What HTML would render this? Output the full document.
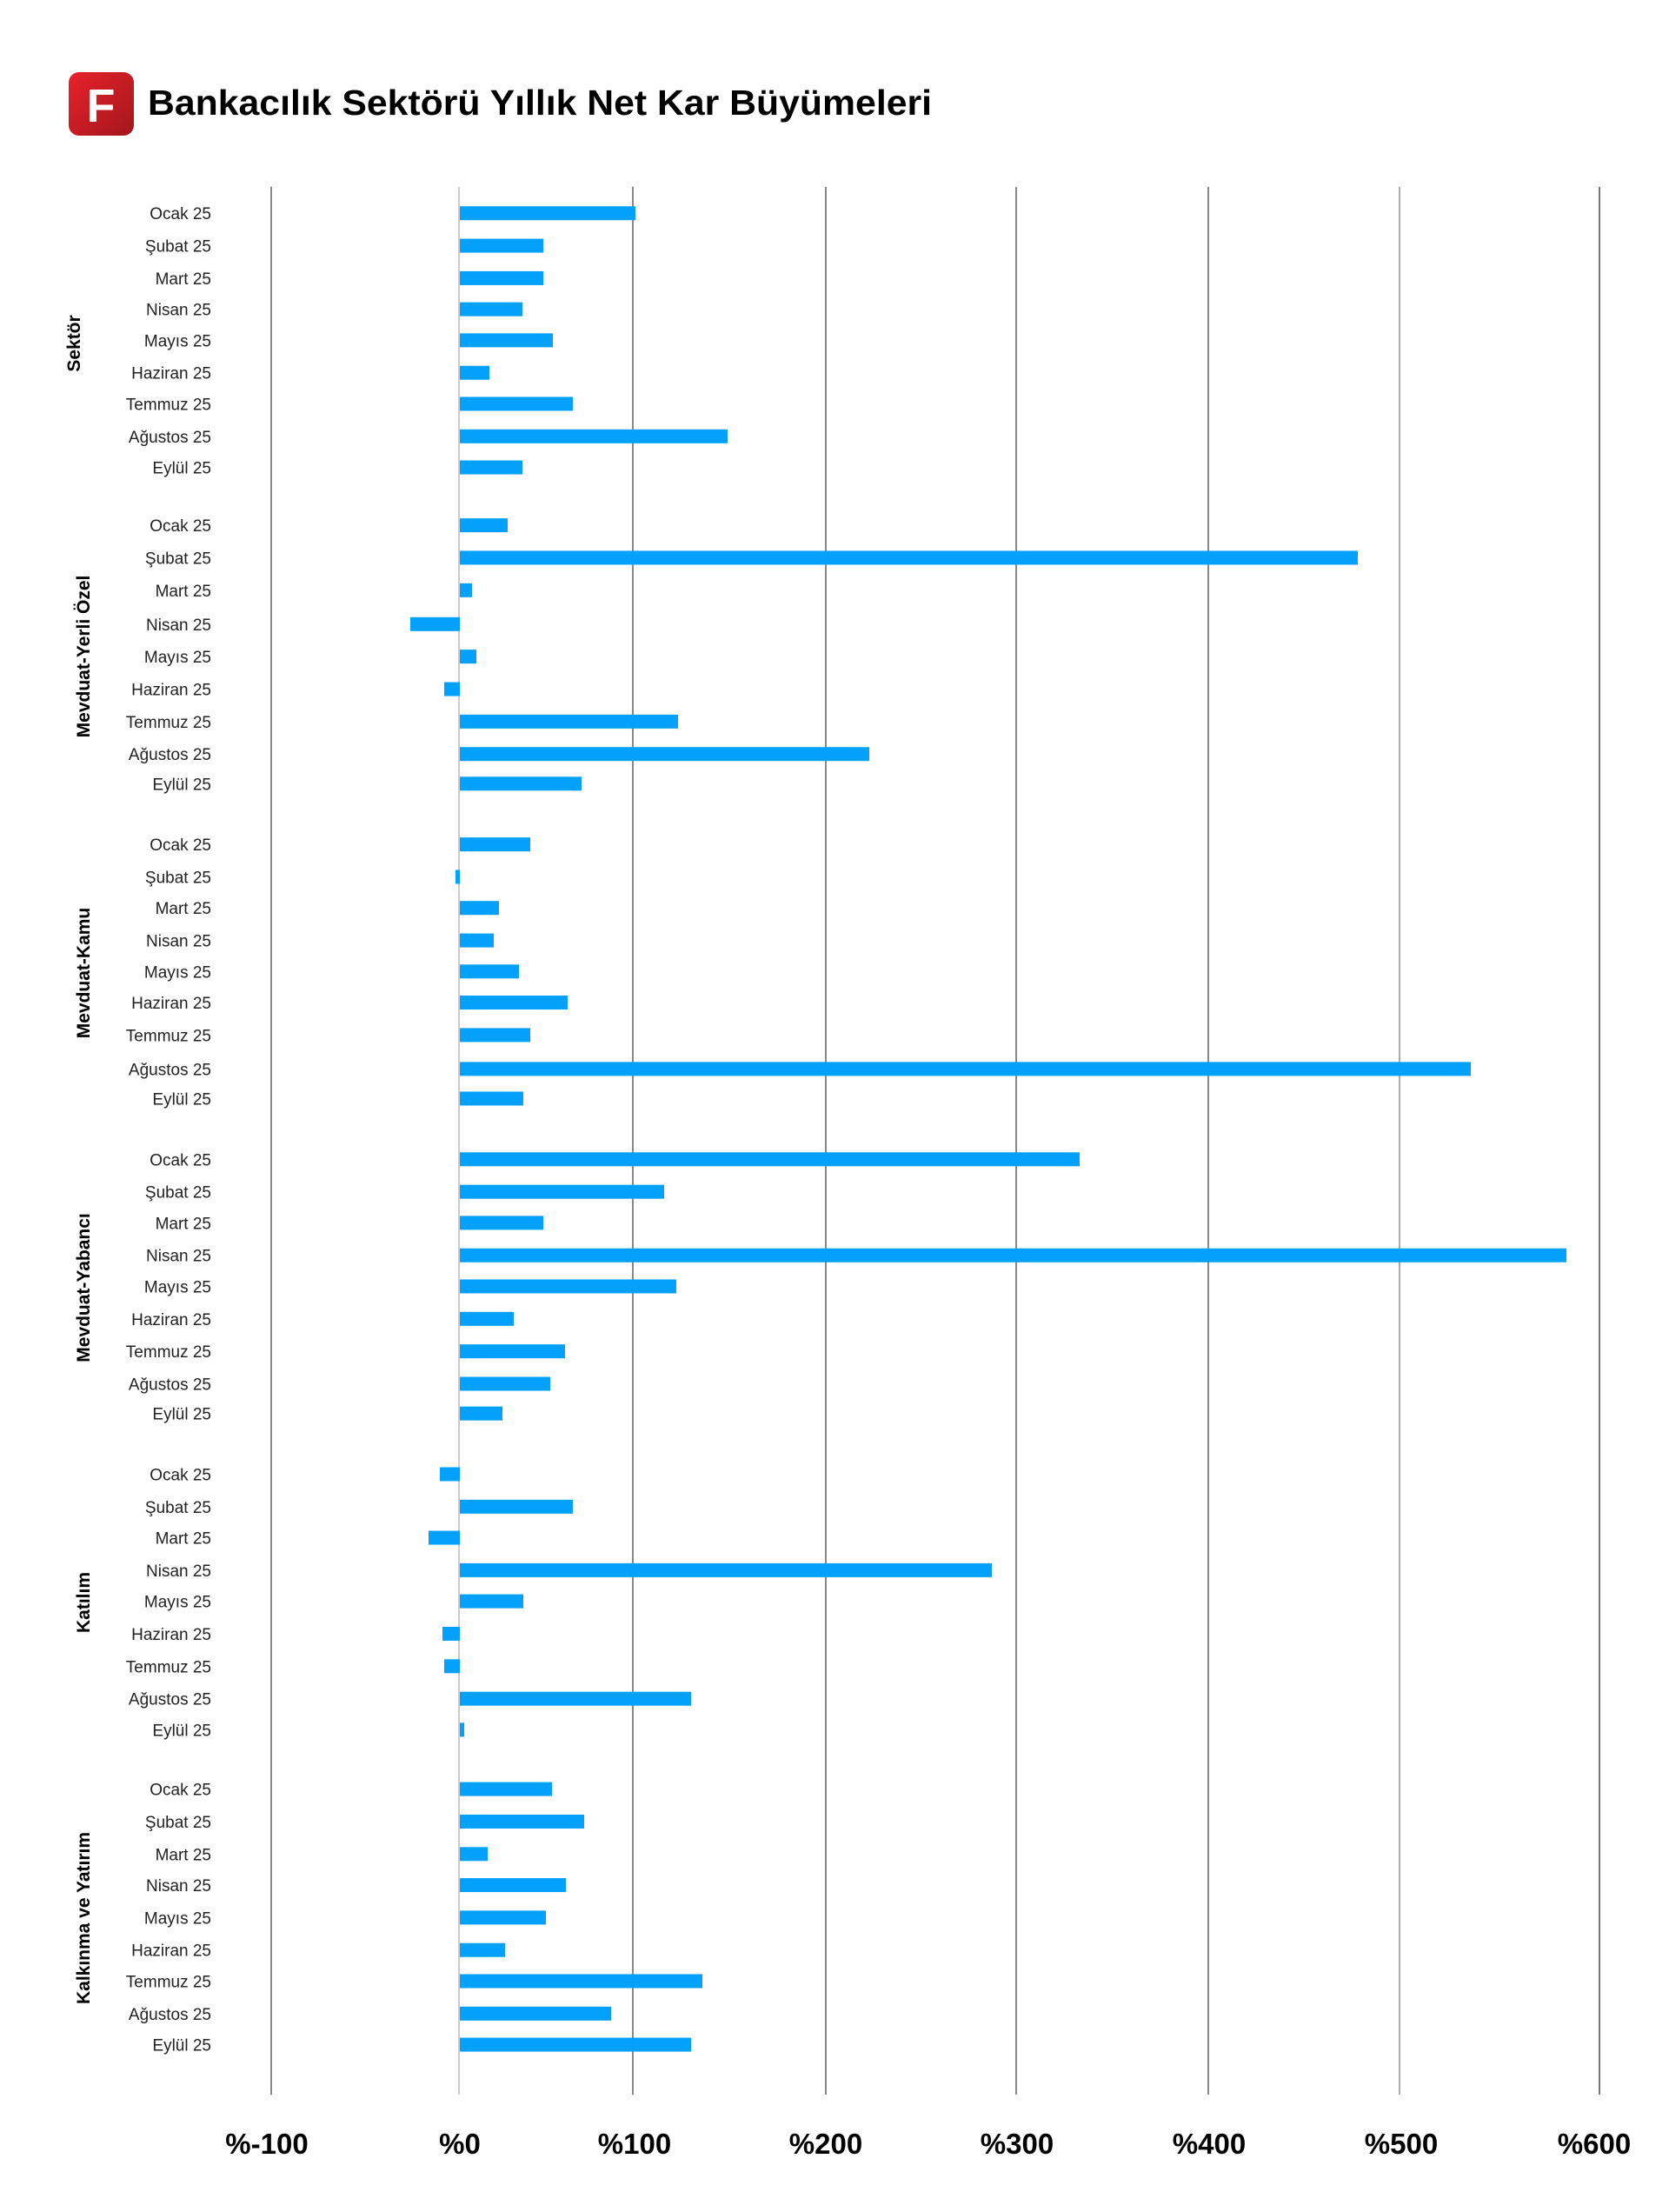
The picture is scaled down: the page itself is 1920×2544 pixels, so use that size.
<!DOCTYPE html>
<html><head><meta charset="utf-8"><style>
html,body{margin:0;padding:0;background:#fff;}
svg{display:block;}
text{font-family:"Liberation Sans",sans-serif;}
</style></head><body>
<svg width="1920" height="2544" viewBox="0 0 1920 2544" xmlns="http://www.w3.org/2000/svg">
<defs><linearGradient id="lg" x1="0" y1="0" x2="1" y2="1"><stop offset="0" stop-color="#e8222a"/><stop offset="1" stop-color="#a3161c"/></linearGradient></defs>
<rect x="79" y="83" width="75" height="73" rx="12" fill="url(#lg)"/>
<text x="116" y="140" font-size="54" font-weight="bold" fill="#fff" text-anchor="middle">F</text>
<text x="170" y="132" font-size="41" font-weight="bold" fill="#000" textLength="902" lengthAdjust="spacingAndGlyphs">Bankacılık Sektörü Yıllık Net Kar Büyümeleri</text>
<g stroke-width="2">
<line x1="312" y1="215" x2="312" y2="2409" stroke="#888"/>
<line x1="528" y1="215" x2="528" y2="2409" stroke="#ccc"/>
<line x1="728" y1="215" x2="728" y2="2409" stroke="#888"/>
<line x1="950" y1="215" x2="950" y2="2409" stroke="#888"/>
<line x1="1169" y1="215" x2="1169" y2="2409" stroke="#888"/>
<line x1="1390" y1="215" x2="1390" y2="2409" stroke="#888"/>
<line x1="1610" y1="215" x2="1610" y2="2409" stroke="#aaa"/>
<line x1="1840" y1="215" x2="1840" y2="2409" stroke="#777"/>
</g>
<g id="bars" fill="#04a1fc"></g>
<g id="labels" font-size="19" fill="#222" text-anchor="end"></g>
<g font-size="21" font-weight="bold" fill="#000" text-anchor="middle">
<text transform="translate(92,395) rotate(-90)">Sektör</text>
<text transform="translate(103,755) rotate(-90)">Mevduat-Yerli Özel</text>
<text transform="translate(103,1119) rotate(-90)">Mevduat-Kamu</text>
<text transform="translate(103,1481) rotate(-90)">Mevduat-Yabancı</text>
<text transform="translate(103,1843) rotate(-90)">Katılım</text>
<text transform="translate(103,2206) rotate(-90)">Kalkınma ve Yatırım</text>
</g>
<g font-size="33" font-weight="bold" fill="#000" text-anchor="middle">
<text x="307" y="2477">%-100</text>
<text x="529" y="2477">%0</text>
<text x="730" y="2477">%100</text>
<text x="950" y="2477">%200</text>
<text x="1170" y="2477">%300</text>
<text x="1391" y="2477">%400</text>
<text x="1612" y="2477">%500</text>
<text x="1834" y="2477">%600</text>
</g>
<script>
var Y=[[151,174,197,219,241,264,286,309,331],[372,395,418,442,465,488,511,534,555],[598,621,643,666,688,710,733,757,778],[821,844,866,889,911,934,957,980,1001],[1044,1067,1089,1112,1134,1157,1180,1203,1225],[1267,1290,1313,1335,1358,1381,1403,1426,1448]];
var E=[[731,625,625,601,636,563,659,837,601],[584,1562,543,472,548,511,780,1000,669],[610,524,574,568,597,653,610,1692,602],[1242,764,625,1802,778,591,650,633,578],[506,659,493,1141,602,509,511,795,534],[635,672,561,651,628,581,808,703,795]];
var L=["Ocak 25","Şubat 25","Mart 25","Nisan 25","Mayıs 25","Haziran 25","Temmuz 25","Ağustos 25","Eylül 25"];
var ns="http://www.w3.org/2000/svg",b=document.getElementById("bars"),l=document.getElementById("labels");
for(var g=0;g<6;g++)for(var i=0;i<9;i++){var y=Y[g][i]*1.624,e=E[g][i];var r=document.createElementNS(ns,"rect");var x0=Math.min(529,e),w=Math.abs(e-529);if(w<3)w=3;r.setAttribute("x",x0);r.setAttribute("y",y-8);r.setAttribute("width",w);r.setAttribute("height",16);b.appendChild(r);var t=document.createElementNS(ns,"text");t.setAttribute("x",243);t.setAttribute("y",y+7);t.textContent=L[i];l.appendChild(t);}
</script>
</svg>
</body></html>
